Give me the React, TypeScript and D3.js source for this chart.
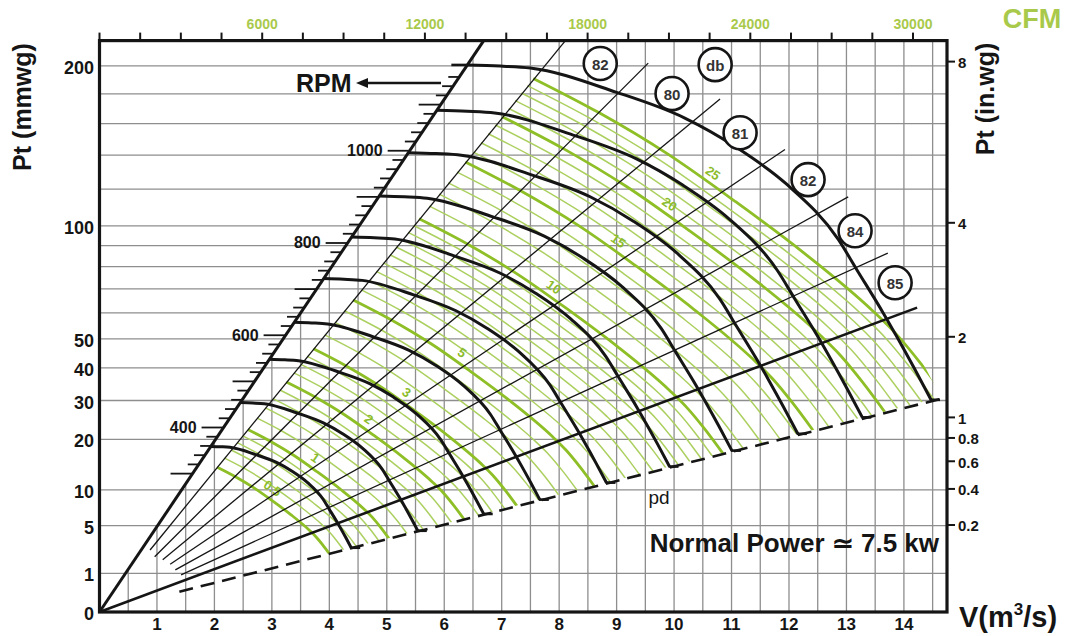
import React from "react";
import * as d3 from "d3";

// ---- canvas ----
const WIDTH = 1067;
const HEIGHT = 636;
const FONT = "'Liberation Sans', Arial, Helvetica, sans-serif";

// ---- axes ----
const V_MAX = 14.75; // m3/s at right frame
const P_MAX = 219; // mmwg at top frame
const V_LABELS = [1, 2, 3, 4, 5, 6, 7, 8, 9, 10, 11, 12, 13, 14];
const P_LABELS = [0, 1, 5, 10, 20, 30, 40, 50, 100, 200];
const P_GRID = [1, 5, 10, 20, 30, 40, 50, 60, 70, 80, 90, 100, 120, 140, 160, 180, 200];
const INWG_TICKS = [0.2, 0.4, 0.6, 0.8, 1, 2, 4, 8];
const MM_PER_INWG = 25.4;
const CFM_LABELS = [6000, 12000, 18000, 24000, 30000];
const CFM_TICK_STEP = 1500;
const CFM_TICK_MAX = 30000;
const CFM_PER_M3S = 2118.88;

// ---- fan curves (constant speed), given at the base speed and scaled by fan laws ----
const FAN_BASE_RPM = 1186;
const FAN_BASE_V = [6.401, 6.975, 7.497, 8.986, 10.178, 11.072, 11.964, 12.858, 13.18, 13.642, 13.875, 14.176, 14.472];
const FAN_BASE_P = [200.7, 199.9, 198.5, 181.3, 163.8, 145.1, 122.6, 93.1, 78.6, 59.9, 50.9, 40.0, 30.2];
const FAN_RPMS = [1186, 1088, 996, 902, 813, 723, 628, 548, 454, 359];

// ---- RPM scale along the stall line: sqrt(P) = SURGE_K * V, sqrt(P) = RPM_SQRTP * N ----
const SURGE_K = 2.213;
const RPM_SQRTP = 0.011946;
const RPM_TICK_MIN = 300;
const RPM_TICK_MAX = 1160;
const RPM_TICK_STEP = 20;
const RPM_LABELS = [400, 600, 800, 1000];

// ---- system lines through the origin: sqrt(P) = k * V ----
const SYS_K = [1.825, 1.4885, 1.23, 1.004, 0.8252, 0.6775];
const SYS_V_START = [0.88, 0.96, 1.1, 1.23, 1.32, 1.42];
const SYS_V_END = [8.11, 9.55, 10.8, 11.93, 13.03, 13.72];
const PEAK_K = 0.554;
const PEAK_V_END = 14.23;
const PD_K = 0.377;
const PD_V_START = 1.39;
const PD_V_END = 14.73;

// ---- sound levels at the end of each system line ----
const SOUND_TEXT = ["82", "db", "80", "81", "82", "84", "85"];
const SOUND_V = [8.715, 10.715, 9.965, 11.149, 12.332, 13.15, 13.847];
const SOUND_P = [201.8, 201.0, 180.3, 154.1, 125.4, 97.5, 72.7];

// ---- constant power lines (kW), scaled by cube root of power ----
const POWER_BASE_KW = 25;
const POWER_BASE_V = [7.549, 8.689, 9.88, 11.071, 12.263, 13.454, 13.875, 14.298, 14.733];
const POWER_BASE_P = [191.0, 167.3, 140.9, 112.9, 86.4, 60.9, 51.6, 41.3, 30.9];
const POWER_MAJOR = [0.5, 1, 2, 3, 5, 10, 15, 20, 25];
const POWER_MINOR = [
  0.6, 0.7, 0.8, 0.9, 1.2, 1.4, 1.6, 1.8, 2.25, 2.5, 2.75, 3.5, 4, 4.5,
  5.5, 6, 6.5, 7, 7.5, 8, 8.5, 9, 9.5, 11, 12, 13, 14, 16, 17, 18, 19, 21, 22, 23, 24,
];

// ---- colours ----
const GRID = "#8e8e8e";
const INK = "#151515";
const GREEN_MAJOR = "#8fbf27";
const GREEN_MINOR = "#acd060";
const GREEN_TEXT = "#8cbc2b";
const GREEN_AXIS = "#a9c94b";

type Pt = [number, number];

function rayHit(pts: Pt[], m: number, ox: number, oy: number) {
  for (let i = 0; i < pts.length - 1; i++) {
    const a = pts[i];
    const b = pts[i + 1];
    const ma = (oy - a[1]) / (a[0] - ox);
    const mb = (oy - b[1]) / (b[0] - ox);
    if ((ma - m) * (mb - m) <= 0) {
      const t = (ma - m) / (ma - mb);
      return {
        hx: a[0] + t * (b[0] - a[0]),
        hy: a[1] + t * (b[1] - a[1]),
        ang: (Math.atan2(b[1] - a[1], b[0] - a[0]) * 180) / Math.PI,
      };
    }
  }
  return null;
}

export default function App() {
  const x = d3.scaleLinear().domain([0, V_MAX]).range([99.5, 947]);
  const y = d3.scaleSqrt().domain([0, P_MAX]).range([612, 40.6]);
  const ox = x(0);
  const oy = y(0);
  const X1 = x(V_MAX);
  const Y1 = y(P_MAX);
  const px = (v: number, p: number): Pt => [x(v), y(p)];
  const smooth = d3.line<Pt>().curve(d3.curveMonotoneX);
  const straight = d3.line<Pt>();

  const fanPts = (rpm: number): Pt[] => {
    const f = rpm / FAN_BASE_RPM;
    return FAN_BASE_V.map((v, i) => px(v * f, FAN_BASE_P[i] * f * f));
  };
  const powerPts = (kw: number): Pt[] => {
    const f = Math.cbrt(kw / POWER_BASE_KW);
    return POWER_BASE_V.map((v, i) => px(v * f, POWER_BASE_P[i] * f * f));
  };
  const sysPt = (k: number, v: number): Pt => {
    const s = Math.min(k * v, Math.sqrt(P_MAX));
    return px(s / k, s * s);
  };

  // envelope of the largest fan curve, for clipping the power lines
  const envScale = 1.012;
  const env = fanPts(FAN_RPMS[0]).map(([a, b]) => [ox + (a - ox) * envScale, oy + (b - oy) * envScale] as Pt);
  const envPath = `M${ox},${oy}` + env.map((p) => `L${p[0]},${p[1]}`).join("") + "Z";

  // vertical grid, clipped by the stall line
  const vGrid = d3.range(1, Math.floor(V_MAX * 2) + 1).map((k) => k / 2);

  // RPM hash marks
  const rpmTicks = d3.range(RPM_TICK_MIN, RPM_TICK_MAX + 1, RPM_TICK_STEP);
  const stallPt = (n: number): Pt => {
    const s = n * RPM_SQRTP;
    return px(s / SURGE_K, s * s);
  };

  const cfmTicks = d3.range(0, CFM_TICK_MAX + 1, CFM_TICK_STEP);

  const LABEL_RAY = 0.72;

  return (
    <svg
      width={WIDTH}
      height={HEIGHT}
      viewBox={`0 0 ${WIDTH} ${HEIGHT}`}
      style={{ position: "absolute", left: 0, top: 0, display: "block", background: "#fff" }}
      fontFamily={FONT}
    >
      <defs>
        <clipPath id="fanEnvelope">
          <path d={envPath} />
        </clipPath>
      </defs>
      <rect x={0} y={0} width={WIDTH} height={HEIGHT} fill="#fff" />

      {/* grid */}
      <g stroke={GRID} strokeWidth={1.3}>
        {P_GRID.map((p) => (
          <line key={`h${p}`} x1={ox} x2={X1} y1={y(p)} y2={y(p)} />
        ))}
        {vGrid.map((v) => {
          const top = Math.min(P_MAX, (SURGE_K * v) ** 2);
          return <line key={`v${v}`} x1={x(v)} x2={x(v)} y1={oy} y2={y(top)} />;
        })}
      </g>

      {/* constant power lines */}
      <g clipPath="url(#fanEnvelope)" fill="none">
        {POWER_MINOR.map((kw) => (
          <path key={`pm${kw}`} d={smooth(powerPts(kw)) || ""} stroke={GREEN_MINOR} strokeWidth={1.5} />
        ))}
        {POWER_MAJOR.map((kw) => (
          <path key={`pM${kw}`} d={smooth(powerPts(kw)) || ""} stroke={GREEN_MAJOR} strokeWidth={2.8} />
        ))}
      </g>
      <g fill={GREEN_TEXT} fontSize={13} fontWeight="bold" textAnchor="middle" dominantBaseline="central">
        {POWER_MAJOR.map((kw) => {
          const hit = rayHit(powerPts(kw), LABEL_RAY, ox, oy);
          if (!hit) return null;
          const dx = hit.hx - ox;
          const dy = hit.hy - oy;
          const len = Math.hypot(dx, dy);
          const lx = hit.hx + (dx / len) * 11;
          const ly = hit.hy + (dy / len) * 11;
          return (
            <text key={`pl${kw}`} transform={`translate(${lx},${ly}) rotate(${hit.ang})`}>
              {String(kw)}
            </text>
          );
        })}
      </g>

      {/* system lines */}
      <g stroke={INK} strokeWidth={1.3} fill="none">
        {SYS_K.map((k, i) => (
          <path key={`s${i}`} d={straight([sysPt(k, SYS_V_START[i]), sysPt(k, SYS_V_END[i])]) || ""} />
        ))}
      </g>
      <path d={straight([sysPt(PEAK_K, 0), sysPt(PEAK_K, PEAK_V_END)]) || ""} stroke={INK} strokeWidth={2.6} fill="none" />
      <path
        d={straight([sysPt(PD_K, PD_V_START), sysPt(PD_K, PD_V_END)]) || ""}
        stroke={INK}
        strokeWidth={2.6}
        strokeDasharray="14 8"
        fill="none"
      />

      {/* fan curves */}
      <g stroke={INK} strokeWidth={3} fill="none">
        {FAN_RPMS.map((n) => {
          const pts = fanPts(n);
          const end = pts[pts.length - 1];
          return (
            <g key={`f${n}`}>
              <path d={smooth(pts) || ""} />
              <line x1={end[0] - 1} x2={end[0] + 9} y1={end[1]} y2={end[1]} strokeWidth={2.6} />
            </g>
          );
        })}
      </g>

      {/* stall line with RPM scale */}
      <path d={straight([sysPt(SURGE_K, 0), sysPt(SURGE_K, V_MAX)]) || ""} stroke={INK} strokeWidth={3} fill="none" />
      <g stroke={INK} strokeWidth={1.8}>
        {rpmTicks.map((n) => {
          const [bx, by] = stallPt(n);
          const len = n % 100 === 0 ? 22 : 11;
          return <line key={`rt${n}`} x1={bx - len} x2={bx} y1={by} y2={by} />;
        })}
        {(() => {
          const [bx, by] = stallPt(FAN_RPMS[0]);
          return <line x1={bx - 16} x2={bx} y1={by} y2={by} strokeWidth={2.6} />;
        })()}
      </g>
      <g fill={INK} fontSize={16} fontWeight="bold" textAnchor="end" dominantBaseline="central">
        {RPM_LABELS.map((n) => {
          const [bx, by] = stallPt(n);
          return (
            <text key={`rl${n}`} x={bx - 27} y={by}>
              {n}
            </text>
          );
        })}
      </g>
      <text x={296} y={92} fontSize={25} fontWeight="bold" fill={INK}>
        RPM
      </text>
      <line x1={364} x2={441} y1={83} y2={83} stroke={INK} strokeWidth={2.4} />
      <path d="M356,83 L368,78 L368,88 Z" fill={INK} />

      {/* sound level markers */}
      <g>
        {SOUND_TEXT.map((t, i) => {
          const [cx, cy] = px(SOUND_V[i], SOUND_P[i]);
          return (
            <g key={`db${i}`}>
              <circle cx={cx} cy={cy} r={16.5} fill="#fff" stroke={INK} strokeWidth={2.6} />
              <text x={cx} y={cy + 1} fontSize={15} fontWeight="bold" fill="#333" textAnchor="middle" dominantBaseline="central">
                {t}
              </text>
            </g>
          );
        })}
      </g>

      {/* frame */}
      <rect x={ox} y={Y1} width={X1 - ox} height={oy - Y1} fill="none" stroke={INK} strokeWidth={3.2} />

      {/* top CFM axis */}
      <g stroke={INK} strokeWidth={2}>
        {cfmTicks.map((c) => {
          const tx = x(c / CFM_PER_M3S);
          return <line key={`ct${c}`} x1={tx} x2={tx} y1={Y1} y2={Y1 - 8} />;
        })}
      </g>
      <g fill={GREEN_AXIS} fontSize={14} fontWeight="bold" textAnchor="middle">
        {CFM_LABELS.map((c) => (
          <text key={`cl${c}`} x={x(c / CFM_PER_M3S)} y={29}>
            {c}
          </text>
        ))}
      </g>
      <text x={1032} y={28} fontSize={27} fontWeight="bold" fill={GREEN_AXIS} textAnchor="middle">
        CFM
      </text>

      {/* left axis */}
      <g fill={INK} fontSize={18} fontWeight="bold" textAnchor="end" dominantBaseline="central">
        {P_LABELS.map((p) => (
          <text key={`pl${p}`} x={94} y={y(p) + 2}>
            {p}
          </text>
        ))}
      </g>
      <text
        transform="translate(22,107) rotate(-90)"
        fontSize={25}
        fontWeight="bold"
        fill={INK}
        textAnchor="middle"
        dominantBaseline="central"
      >
        Pt (mmwg)
      </text>

      {/* right axis */}
      <g stroke={INK} strokeWidth={2}>
        {INWG_TICKS.map((w) => (
          <line key={`it${w}`} x1={X1} x2={X1 + 8} y1={y(w * MM_PER_INWG)} y2={y(w * MM_PER_INWG)} />
        ))}
      </g>
      <g fill={INK} fontSize={15} fontWeight="bold" dominantBaseline="central">
        {INWG_TICKS.map((w) => (
          <text key={`il${w}`} x={X1 + 11} y={y(w * MM_PER_INWG) + 1}>
            {w}
          </text>
        ))}
      </g>
      <text
        transform="translate(985,99) rotate(-90)"
        fontSize={25}
        fontWeight="bold"
        fill={INK}
        textAnchor="middle"
        dominantBaseline="central"
      >
        Pt (in.wg)
      </text>

      {/* bottom axis */}
      <g fill={INK} fontSize={17} fontWeight="bold" textAnchor="middle">
        {V_LABELS.map((v) => (
          <text key={`vl${v}`} x={x(v)} y={630}>
            {v}
          </text>
        ))}
      </g>
      <text x={959} y={627} fontSize={29} fontWeight="bold" fill={INK}>
        V(m
        <tspan dy={-12} fontSize={17}>
          3
        </tspan>
        <tspan dy={12}>/s)</tspan>
      </text>

      {/* annotations */}
      <text x={659} y={497} fontSize={19} fill={INK} textAnchor="middle" dominantBaseline="central">
        pd
      </text>
      <text x={939} y={552} fontSize={26} fontWeight="bold" fill={INK} textAnchor="end">
        Normal Power ≃ 7.5 kw
      </text>
    </svg>
  );
}
